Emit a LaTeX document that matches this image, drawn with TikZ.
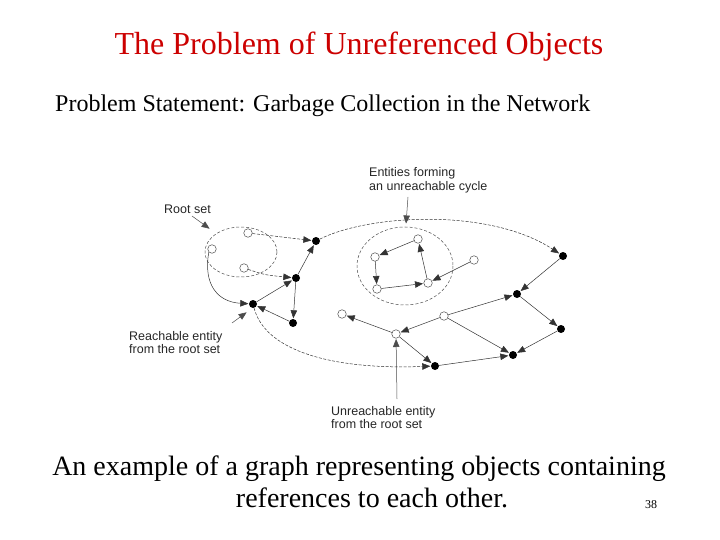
\documentclass[tikz,border=0pt]{standalone}
\usepackage{fontspec}
\setmainfont{Liberation Serif}
\newfontfamily\lblfont{Liberation Sans}
\usetikzlibrary{arrows.meta}
\definecolor{titlered}{RGB}{204,0,0}
\begin{document}
\begin{tikzpicture}[x=1pt,y=-1pt,
  full/.style={circle,fill=black,inner sep=0pt,minimum size=8pt},
  open/.style={circle,draw=black!70,fill=white,line width=0.5pt,inner sep=0pt,minimum size=8.5pt},
  edge/.style={-{Triangle[length=8pt,width=6.5pt]},line width=0.5pt,black!80,shorten >=0.5pt},
  dedge/.style={edge,dash pattern=on 3pt off 1.5pt},
  lbl/.style={font=\lblfont\fontsize{12.5}{13.5}\selectfont,align=left,inner sep=0pt,anchor=west,text=black!85},
  ring/.style={draw=black!70,line width=0.5pt,dash pattern=on 3pt off 2pt}
]
\useasboundingbox (0,0) rectangle (720,540);

% texts
\node[text=titlered,font=\fontsize{32}{36}\selectfont] (title) at (359,47) {The Problem of Unreferenced Objects};
\node[font=\fontsize{24}{28}\selectfont,anchor=west,inner sep=0pt] (sub) at (55,106) {Problem Statement: Garbage Collection in the Network};
\node[font=\fontsize{28}{30}\selectfont,inner sep=0pt] (cap1) at (359,469) {An example of a graph representing objects containing};
\node[font=\fontsize{28}{30}\selectfont,inner sep=0pt] (cap2) at (372,498) {references to each other.};
\node[font=\fontsize{12}{14}\selectfont,inner sep=0pt] (pg) at (651,505) {38};

% ellipses
\draw[ring] (241,252) ellipse [x radius=36, y radius=25];
\draw[ring] (405,266) ellipse [x radius=48, y radius=39];

% nodes
\node[open] (r1) at (248,233) {};
\node[open] (r2) at (212,249) {};
\node[open] (r3) at (244,268) {};
\node[full] (A) at (316,241) {};
\node[full] (B) at (296,278) {};
\node[full] (C) at (253,304) {};
\node[full] (D) at (293,323) {};
\node[open] (p1) at (418,239) {};
\node[open] (p2) at (375,257) {};
\node[open] (p3) at (377,289) {};
\node[open] (p4) at (428,283) {};
\node[open] (q) at (474,260) {};
\node[full] (E) at (563,256) {};
\node[full] (F) at (517,294) {};
\node[open] (G) at (444,316) {};
\node[open] (H) at (342,314) {};
\node[open] (I) at (396,334) {};
\node[full] (K) at (561,329) {};
\node[full] (J) at (513,355) {};
\node[full] (N) at (435,366) {};

% labels
\node[lbl] (lroot) at (164,209) {Root set};
\node[lbl] (lcyc) at (369,180.5) {Entities forming\\an unreachable cycle};
\node[lbl] (lreach) at (129,342.5) {Reachable entity\\from the root set};
\node[lbl] (lunr) at (331,417.5) {Unreachable entity\\from the root set};

\coordinate (proot1) at (192,216);
\coordinate (proot2) at (210,229);
\coordinate (pcyc1) at (408,197);
\coordinate (pcyc2) at (406,224);
\coordinate (preach1) at (232,323);
\coordinate (preach2) at (247,312);
\coordinate (punr1) at (397,399);

% pointers
\draw[edge,black!70] (proot1) -- (proot2);
\draw[edge,black!70] (pcyc1) -- (pcyc2);
\draw[edge,black!70] (preach1) -- (preach2);
\draw[edge,black!70] (punr1) -- (I);

% edges in root area
\draw[dedge] (r1) -- (A);
\draw[dedge] (r3) .. controls (265,275) .. (B);
\draw[edge] (r2.south west) .. controls (203,285) and (218,302) .. (C);
\draw[edge] (B) -- (A);
\draw[edge] (C) -- (B);
\draw[edge] (B) -- (D);
\draw[edge] (D) -- (C);
\draw[dedge] (A) .. controls (370,214) and (490,208) .. (E);
\draw[dedge] (C) .. controls (265,350) and (330,370) .. (N);

% cycle
\draw[edge] (p1) -- (p2);
\draw[edge] (p2) -- (p3);
\draw[edge] (p3) -- (p4);
\draw[edge] (p4) -- (p1);
\draw[edge] (q) -- (p4);

% right part
\draw[edge] (E) -- (F);
\draw[edge] (G) -- (F);
\draw[edge] (G) -- (I);
\draw[edge] (G) -- (J);
\draw[edge] (F) -- (K);
\draw[edge] (K) -- (J);
\draw[edge] (I) -- (H);
\draw[edge] (I) -- (N);
\draw[edge] (N) -- (J);
\end{tikzpicture}
\end{document}
